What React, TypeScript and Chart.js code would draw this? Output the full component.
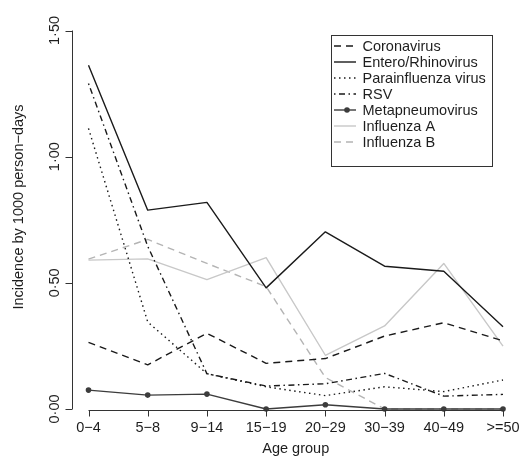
import React, { useEffect, useRef } from "react";
import { Chart, registerables } from "chart.js";

Chart.register(...registerables);

// ---- data ----
const ageGroups = ["0\u22124", "5\u22128", "9\u221214", "15\u221219", "20\u221229", "30\u221239", "40\u221249", ">=50"];
const coronavirus = [0.264, 0.175, 0.3, 0.181, 0.2, 0.289, 0.342, 0.27];
const enteroRhinovirus = [1.362, 0.788, 0.819, 0.48, 0.702, 0.566, 0.546, 0.326];
const parainfluenza = [1.112, 0.345, 0.14, 0.088, 0.053, 0.088, 0.069, 0.115];
const rsv = [1.29, 0.645, 0.14, 0.091, 0.1, 0.141, 0.051, 0.058];
const metapneumovirus = [0.075, 0.055, 0.059, 0, 0.017, 0, 0, 0];
const influenzaA = [0.59, 0.595, 0.513, 0.6, 0.213, 0.329, 0.577, 0.249];
const influenzaB = [0.594, 0.672, 0.577, 0.485, 0.125, 0, 0, 0];
const yTicks = [0, 0.5, 1.0, 1.5];
const yTickLabels = ["0\u00b700", "0\u00b750", "1\u00b700", "1\u00b750"];
const seriesNames = [
  "Coronavirus",
  "Entero/Rhinovirus",
  "Parainfluenza virus",
  "RSV",
  "Metapneumovirus",
  "Influenza A",
  "Influenza B",
];
const xTitle = "Age group";
const yTitle = "Incidence by 1000 person\u2212days";

// ---- styles ----
const FONT = '"Liberation Sans", Arial, Helvetica, sans-serif';
const FS = 14.5;
const TEXT = "#1e1e1e";
const AXIS = "#333333";

const rStylePlugin = {
  id: "rStyle",
  afterDraw(chart: any) {
    const { ctx } = chart;
    const xs = chart.scales.x;
    const ys = chart.scales.y;
    const n = ageGroups.length;
    ctx.save();
    ctx.strokeStyle = AXIS;
    ctx.lineWidth = 1;
    ctx.fillStyle = TEXT;
    ctx.font = `${FS}px ${FONT}`;

    // y axis
    const ax = Math.round(xs.getPixelForValue(-0.28)) + 0.5;
    const yb = ys.getPixelForValue(yTicks[0]);
    const yt = ys.getPixelForValue(yTicks[yTicks.length - 1]);
    ctx.beginPath();
    ctx.moveTo(ax, yb);
    ctx.lineTo(ax, yt);
    yTicks.forEach((v) => {
      const py = Math.round(ys.getPixelForValue(v)) + 0.5;
      ctx.moveTo(ax, py);
      ctx.lineTo(ax - 7, py);
    });
    ctx.stroke();
    ctx.textAlign = "center";
    ctx.textBaseline = "alphabetic";
    yTicks.forEach((v, i) => {
      const py = ys.getPixelForValue(v);
      ctx.save();
      ctx.translate(ax - 13.5, py);
      ctx.rotate(-Math.PI / 2);
      ctx.fillText(yTickLabels[i], 0, 0);
      ctx.restore();
    });

    // x axis
    const by = Math.round(ys.getPixelForValue(0)) + 1.5;
    const x0 = xs.getPixelForValue(0);
    const x1 = xs.getPixelForValue(n - 1);
    ctx.beginPath();
    ctx.moveTo(x0, by);
    ctx.lineTo(x1, by);
    for (let i = 0; i < n; i++) {
      const px = Math.round(xs.getPixelForValue(i)) + 0.5;
      ctx.moveTo(px, by);
      ctx.lineTo(px, by + 6);
    }
    ctx.stroke();
    for (let i = 0; i < n; i++) {
      ctx.fillText(ageGroups[i], xs.getPixelForValue(i), by + 21);
    }

    // axis titles
    const cx = (xs.getPixelForValue(-0.28) + xs.getPixelForValue(n - 1 + 0.28)) / 2;
    ctx.fillText(xTitle, cx, by + 42.5);
    ctx.save();
    ctx.translate(22.5, 207);
    ctx.rotate(-Math.PI / 2);
    ctx.fillText(yTitle, 0, 0);
    ctx.restore();

    // legend
    const lx = 331.5, ly = 35.5, lw = 161, lh = 131;
    ctx.strokeStyle = AXIS;
    ctx.lineWidth = 1;
    ctx.strokeRect(lx, ly, lw, lh);
    ctx.textAlign = "left";
    ctx.textBaseline = "middle";
    chart.data.datasets.forEach((ds: any, i: number) => {
      const ry = 46 + i * 16;
      ctx.save();
      ctx.strokeStyle = ds.borderColor;
      ctx.lineWidth = ds.borderWidth;
      ctx.setLineDash(ds.borderDash || []);
      ctx.beginPath();
      ctx.moveTo(334, ry);
      ctx.lineTo(356, ry);
      ctx.stroke();
      if (ds.pointRadius > 0) {
        ctx.fillStyle = ds.pointBackgroundColor;
        ctx.beginPath();
        ctx.arc(347, ry, ds.pointRadius, 0, Math.PI * 2);
        ctx.fill();
      }
      ctx.restore();
      ctx.fillText(ds.label, 362.5, ry + 0.5);
    });
    ctx.restore();
  },
};

function makeDataset(label: string, data: number[], color: string, dash: number[], pts = 0) {
  return {
    label,
    data,
    borderColor: color,
    backgroundColor: color,
    borderWidth: 1.4,
    borderDash: dash,
    borderJoinStyle: "round" as const,
    borderCapStyle: "butt" as const,
    pointRadius: pts,
    pointHoverRadius: pts,
    pointBackgroundColor: color,
    pointBorderColor: color,
    pointBorderWidth: 0,
    tension: 0,
    fill: false,
    clip: false as const,
  };
}

export default function App() {
  const ref = useRef<HTMLCanvasElement | null>(null);
  useEffect(() => {
    if (!ref.current) return;
    const chart = new Chart(ref.current, {
      type: "line",
      data: {
        labels: ageGroups,
        datasets: [
          makeDataset(seriesNames[0], coronavirus, "#1a1a1a", [7, 5]),
          makeDataset(seriesNames[1], enteroRhinovirus, "#1a1a1a", []),
          makeDataset(seriesNames[2], parainfluenza, "#1a1a1a", [1.5, 3.5]),
          makeDataset(seriesNames[3], rsv, "#1a1a1a", [1.5, 3.5, 6, 3.5]),
          makeDataset(seriesNames[4], metapneumovirus, "#3c3c3c", [], 2.8),
          makeDataset(seriesNames[5], influenzaA, "#c8c8c8", []),
          makeDataset(seriesNames[6], influenzaB, "#b4b4b4", [7, 5]),
        ],
      },
      options: {
        responsive: false,
        devicePixelRatio: 1,
        animation: false,
        events: [],
        layout: { padding: { left: 88.5, right: 23, top: 30.5, bottom: 48 } },
        plugins: {
          legend: { display: false },
          tooltip: { enabled: false },
          title: { display: false },
        },
        scales: {
          x: { type: "category", display: false, offset: false },
          y: { type: "linear", display: false, min: 0, max: 1.5 },
        },
      },
      plugins: [rStylePlugin],
    });
    return () => chart.destroy();
  }, []);
  return (
    <div style={{ position: "absolute", left: 0, top: 0, width: 526, height: 457, background: "#fff" }}>
      <canvas ref={ref} width={526} height={457} style={{ width: 526, height: 457, display: "block" }} />
    </div>
  );
}
